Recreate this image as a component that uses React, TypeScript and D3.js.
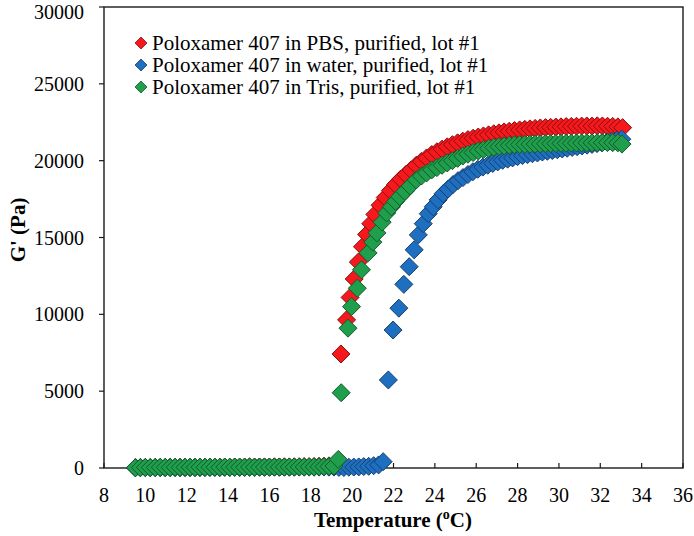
import React from 'react';
import * as d3 from 'd3';

// shared temperatures for the flat (sol) part of each run
const lowTemp = [
  9.52, 9.76, 10.0, 10.24, 10.48, 10.72, 10.96, 11.2, 11.44, 11.68, 11.92, 12.16, 12.4, 12.64,
  12.88, 13.12, 13.36, 13.6, 13.84, 14.08, 14.32, 14.56, 14.8, 15.04, 15.28, 15.52, 15.76, 16.0,
  16.24, 16.48, 16.72, 16.96, 17.2, 17.44, 17.68, 17.92, 18.16, 18.4, 18.64, 18.88, 19.12,
];
const pbsLow = [
  30, 35, 40, 30, 45, 40, 35, 50, 40, 45, 50, 40, 55, 45, 50, 60, 50, 55, 60, 50, 65, 55, 60, 70,
  60, 65, 70, 60, 75, 70, 80, 70, 85, 80, 90, 85, 100, 110, 120, 140, 180,
];
const waterLow = [
  10, 15, 20, 15, 20, 25, 20, 25, 30, 20, 25, 30, 25, 30, 35, 30, 35, 30, 40, 35, 40, 35, 40, 45,
  40, 45, 40, 45, 50, 45, 50, 45, 50, 55, 50, 55, 50, 55, 60, 55, 60,
];
const trisLow = [
  20, 30, 40, 35, 30, 45, 40, 35, 50, 40, 45, 50, 40, 55, 45, 50, 55, 45, 60, 50, 55, 60, 50, 65,
  55, 60, 65, 55, 70, 60, 65, 70, 60, 75, 70, 80, 75, 85, 90, 100, 130,
];

// gel part of each run
const pbsTemp = [
  19.46, 19.73, 19.9, 20.1, 20.3, 20.5, 20.7, 20.9, 21.1, 21.35, 21.6, 21.85, 22.1, 22.35, 22.6,
  22.85, 23.1, 23.35, 23.6, 23.85, 24.1, 24.35, 24.6, 24.85, 25.1, 25.35, 25.6, 25.85, 26.1,
  26.35, 26.6, 26.85, 27.1, 27.35, 27.6, 27.85, 28.1, 28.35, 28.6, 28.85, 29.1, 29.35, 29.6,
  29.85, 30.1, 30.35, 30.6, 30.85, 31.1, 31.35, 31.6, 31.85, 32.1, 32.35, 32.6, 32.85, 33.08,
];
const pbsG = [
  7420, 9640, 11100, 12300, 13400, 14400, 15200, 15900, 16500, 17100, 17600, 18050, 18450, 18800,
  19100, 19400, 19700, 19950, 20180, 20400, 20580, 20750, 20900, 21040, 21160, 21270, 21370,
  21460, 21540, 21610, 21680, 21750, 21810, 21870, 21920, 21960, 22000, 22040, 22070, 22100,
  22130, 22150, 22170, 22190, 22200, 22220, 22230, 22240, 22250, 22260, 22250, 22270, 22260,
  22240, 22230, 22200, 22150,
];
const waterTemp = [
  19.36, 19.6, 19.84, 20.08, 20.32, 20.56, 20.8, 21.04, 21.28, 21.5, 21.75, 21.98, 22.26, 22.5,
  22.76, 23.0, 23.2, 23.44, 23.68, 23.92, 24.16, 24.4, 24.64, 24.88, 25.12, 25.36, 25.6, 25.84,
  26.08, 26.32, 26.56, 26.8, 27.04, 27.28, 27.52, 27.76, 28.0, 28.24, 28.48, 28.72, 28.96, 29.2,
  29.44, 29.68, 29.92, 30.16, 30.4, 30.64, 30.88, 31.12, 31.36, 31.6, 31.84, 32.08, 32.32, 32.56,
  32.8, 33.04,
];
const waterG = [
  40, 30, 50, 60, 70, 90, 110, 150, 200, 410, 5730, 8980, 10400, 11950, 13100, 14200, 15170,
  15900, 16550, 17000, 17450, 17850, 18150, 18450, 18700, 18900, 19100, 19280, 19440, 19580,
  19700, 19820, 19920, 20020, 20100, 20180, 20260, 20330, 20390, 20450, 20500, 20560, 20610,
  20660, 20710, 20760, 20810, 20860, 20910, 20960, 21010, 21060, 21110, 21160, 21210, 21260,
  21330, 21400,
];
const trisTemp = [
  19.33, 19.47, 19.8, 19.97, 20.25, 20.45, 20.77, 21.0, 21.2, 21.45, 21.67, 21.9, 22.1, 22.3,
  22.55, 22.8, 23.1, 23.35, 23.6, 23.85, 24.1, 24.35, 24.6, 24.85, 25.1, 25.35, 25.6, 25.85,
  26.1, 26.35, 26.6, 26.85, 27.1, 27.35, 27.6, 27.85, 28.1, 28.35, 28.6, 28.85, 29.1, 29.35,
  29.6, 29.85, 30.1, 30.35, 30.6, 30.85, 31.1, 31.35, 31.6, 31.85, 32.1, 32.35, 32.6, 32.85, 33.05,
];
const trisG = [
  560, 4900, 9100, 10500, 11700, 12900, 14000, 14700, 15300, 16000, 16600, 17000, 17350, 17660,
  18000, 18350, 18750, 19000, 19200, 19400, 19550, 19700, 19850, 20000, 20150, 20300, 20420,
  20530, 20630, 20720, 20800, 20870, 20920, 20960, 21000, 21030, 21050, 21060, 21070, 21080,
  21090, 21100, 21110, 21120, 21130, 21130, 21140, 21150, 21150, 21160, 21160, 21170, 21170,
  21180, 21170, 21160, 21080,
];

const legendLabels = [
  'Poloxamer 407 in PBS, purified, lot #1',
  'Poloxamer 407 in water, purified, lot #1',
  'Poloxamer 407 in Tris, purified, lot #1',
];
const fills = ['#f5181c', '#1f6fc1', '#1f9e4c'];
const strokes = ['#8a0f10', '#173f6e', '#145a2c'];

const xTicks = [8, 10, 12, 14, 16, 18, 20, 22, 24, 26, 28, 30, 32, 34, 36];
const yTicks = [0, 5000, 10000, 15000, 20000, 25000, 30000];

const W = 694;
const H = 536;
const plot = { left: 104, right: 683, top: 7, bottom: 468 };
const font = "'Liberation Serif', 'DejaVu Serif', serif";

const zip = (t: number[], v: number[]) => t.map((d, i) => [d, v[i]] as [number, number]);

const series = [
  zip(lowTemp, pbsLow).concat(zip(pbsTemp, pbsG)),
  zip(lowTemp, waterLow).concat(zip(waterTemp, waterG)),
  zip(lowTemp, trisLow).concat(zip(trisTemp, trisG)),
];

const diamond = (r: number) => `M0,${-r}L${r},0L0,${r}L${-r},0Z`;

const App: React.FC = () => {
  const x = d3.scaleLinear().domain([8, 36]).range([plot.left, plot.right]);
  const y = d3.scaleLinear().domain([0, 30000]).range([plot.bottom, plot.top]);

  return (
    <svg
      width={W}
      height={H}
      style={{ position: 'absolute', left: 0, top: 0, background: '#fff', fontFamily: font }}
    >
      <rect width={W} height={H} fill="#fff" />

      {/* frame */}
      <rect
        x={plot.left}
        y={plot.top}
        width={plot.right - plot.left}
        height={plot.bottom - plot.top}
        fill="none"
        stroke="#1a1a1a"
        strokeWidth={1.4}
      />

      {/* y axis */}
      {yTicks.map((t) => (
        <g key={t}>
          <line x1={plot.left - 5} x2={plot.left} y1={y(t)} y2={y(t)} stroke="#1a1a1a" strokeWidth={1.2} />
          <text x={84} y={Math.max(y(t), 12)} dy="0.35em" textAnchor="end" fontSize={20}>
            {t}
          </text>
        </g>
      ))}

      {/* x axis */}
      {xTicks.map((t) => (
        <g key={t}>
          <line x1={x(t)} x2={x(t)} y1={plot.bottom} y2={plot.bottom - 5} stroke="#1a1a1a" strokeWidth={1.2} />
          <text x={x(t)} y={502} textAnchor="middle" fontSize={20}>
            {t}
          </text>
        </g>
      ))}

      {/* points */}
      {series.map((s, i) => (
        <g key={i}>
          {s.map(([t, g], j) => (
            <path
              key={j}
              d={diamond(9)}
              transform={`translate(${x(t)},${y(g)})`}
              fill={fills[i]}
              stroke={strokes[i]}
              strokeWidth={1}
            />
          ))}
        </g>
      ))}

      {/* legend */}
      {legendLabels.map((label, i) => (
        <g key={label} transform={`translate(141,${43 + i * 22})`}>
          <path d={diamond(6)} fill={fills[i]} stroke={strokes[i]} strokeWidth={0.8} />
          <text x={11} dy="0.35em" fontSize={21}>
            {label}
          </text>
        </g>
      ))}

      {/* axis titles */}
      <text
        transform="translate(25,230) rotate(-90)"
        textAnchor="middle"
        fontSize={21}
        fontWeight="bold"
      >
        G' (Pa)
      </text>
      <text x={393} y={527} textAnchor="middle" fontSize={21} fontWeight="bold">
        Temperature (<tspan fontSize={14} dy={-8}>o</tspan>
        <tspan dy={8}>C)</tspan>
      </text>
    </svg>
  );
};

export default App;
